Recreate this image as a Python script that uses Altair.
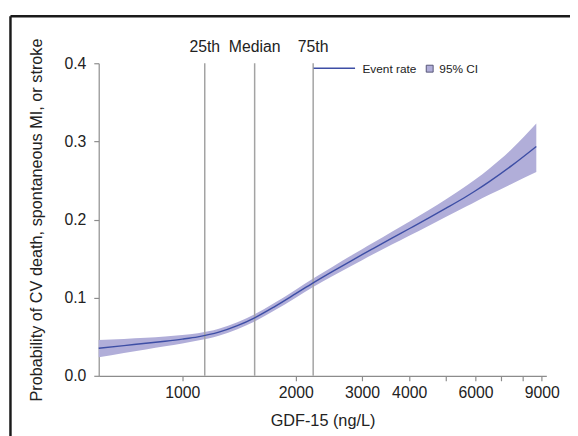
import altair as alt
import pandas as pd

# ---- data ----
gdf = [600, 700, 800, 900, 1000, 1100, 1250, 1400, 1556, 1750, 2000, 2225, 2500,
       2800, 3000, 3200, 3600, 4000, 4500, 5000, 5700, 6000, 6500, 7500, 8700]
rate = [0.0353, 0.0387, 0.0416, 0.0443, 0.0470, 0.0499, 0.0558, 0.0641, 0.0742,
        0.0880, 0.1051, 0.1190, 0.1334, 0.1469, 0.1550, 0.1625, 0.1761, 0.1882,
        0.2018, 0.2142, 0.2301, 0.2368, 0.2479, 0.2693, 0.2935]
upper = [0.0458, 0.0472, 0.0486, 0.0503, 0.0522, 0.0546, 0.0603, 0.0686, 0.0788,
         0.0928, 0.1102, 0.1245, 0.1394, 0.1535, 0.1620, 0.1699, 0.1843, 0.1972,
         0.2120, 0.2257, 0.2439, 0.2515, 0.2644, 0.2905, 0.3228]
lower = [0.0236, 0.0292, 0.0338, 0.0378, 0.0415, 0.0451, 0.0513, 0.0596, 0.0696,
         0.0832, 0.1000, 0.1135, 0.1274, 0.1403, 0.1480, 0.1551, 0.1679, 0.1792,
         0.1918, 0.2032, 0.2174, 0.2229, 0.2313, 0.2459, 0.2607]
pct_values = [1147, 1556, 2225]
pct_labels = ["25th", "Median", "75th"]
x_ticks = [1000, 2000, 3000, 4000, 5000, 6000, 7000, 8000, 9000]
y_ticks = [0.0, 0.1, 0.2, 0.3, 0.4]
legend_labels = ["Event rate", "95% CI"]

df = pd.DataFrame({"gdf": gdf, "rate": rate, "lower": lower, "upper": upper})
pct = pd.DataFrame({"v": pct_values, "label": pct_labels})
one = pd.DataFrame({"a": [0]})

FONT = "Liberation Sans"
BAND = "#b1aed9"
LINE = "#3d4ea5"
GREY = "#a3a3a3"
AXC = "#8c8c8c"
TXT = "#222222"

xscale = alt.Scale(type="log", domain=[600, 9250], nice=False)
yscale = alt.Scale(domain=[0, 0.4], nice=False, zero=False)

xaxis = alt.Axis(
    title="GDF-15 (ng/L)", values=x_ticks,
    labelExpr="indexof([5000,7000,8000], datum.value) >= 0 ? '' : format(datum.value, 'd')",
    grid=False, tickSize=5, labelPadding=4, titlePadding=12,
    labelFontSize=16, titleFontSize=16.5, titleFontWeight="normal",
    labelFlush=False, labelOverlap=False,
)
yaxis = alt.Axis(
    title="Probability of CV death, spontaneous MI, or stroke", values=y_ticks,
    format=".1f", grid=False, tickSize=5, labelPadding=8, titlePadding=20,
    labelFontSize=16, titleFontSize=16.5, titleFontWeight="normal",
    labelFlush=False,
)

band = alt.Chart(df).mark_area(color=BAND, opacity=1, interpolate="monotone").encode(
    x=alt.X("gdf:Q", scale=xscale, axis=xaxis),
    y=alt.Y("lower:Q", scale=yscale, axis=yaxis),
    y2="upper:Q",
)
rules = alt.Chart(pct).mark_rule(color=GREY, strokeWidth=1.5).encode(
    x="v:Q", y=alt.datum(0), y2=alt.datum(0.4)
)
line = alt.Chart(df).mark_line(color=LINE, strokeWidth=1.4, interpolate="monotone").encode(
    x="gdf:Q", y="rate:Q"
)
pct_text = alt.Chart(pct).mark_text(
    font=FONT, fontSize=16, color=TXT, align="center", baseline="alphabetic"
).encode(x="v:Q", y=alt.value(-11), text="label:N")

# legend (drawn manually, pixel positions inside the plot)
leg_line = alt.Chart(one).mark_rule(color=LINE, strokeWidth=1.4).encode(
    x=alt.value(218), x2=alt.value(260), y=alt.value(5)
)
leg_t1 = alt.Chart(one).mark_text(
    font=FONT, fontSize=12, color=TXT, align="left", baseline="middle", text=legend_labels[0]
).encode(x=alt.value(267.5), y=alt.value(5.5))
leg_sq = alt.Chart(one).mark_square(
    size=49, fill=BAND, fillOpacity=1, stroke="#555577", strokeWidth=1
).encode(x=alt.value(335.7), y=alt.value(5.5))
leg_t2 = alt.Chart(one).mark_text(
    font=FONT, fontSize=12, color=TXT, align="left", baseline="middle", text=legend_labels[1]
).encode(x=alt.value(345.5), y=alt.value(5.5))

# outer frame (top and left edges of a box cropped by the image)
frame_top = alt.Chart(one).mark_rule(color="#1a1a1a", strokeWidth=2.5).encode(
    x=alt.value(-89.5), x2=alt.value(600), y=alt.value(-47.7)
)
frame_left = alt.Chart(one).mark_rule(color="#1a1a1a", strokeWidth=2.5).encode(
    x=alt.value(-89.5), y=alt.value(-47.7), y2=alt.value(600)
)

chart = alt.layer(
    band, rules, line, pct_text, leg_line, leg_t1, leg_sq, leg_t2, frame_top, frame_left
).properties(
    width=454, height=317,
    autosize=alt.AutoSizeParams(type="none"),
    padding={"left": 92, "top": 53, "right": 24, "bottom": 58},
    background="white",
).configure_view(stroke=None).configure_axis(
    labelFont=FONT, titleFont=FONT, labelColor=TXT, titleColor=TXT,
    domainColor=AXC, tickColor=AXC, domainWidth=1.2, tickWidth=1.2,
)

chart.save("out.html", embed_options={"renderer": "svg", "actions": False})
